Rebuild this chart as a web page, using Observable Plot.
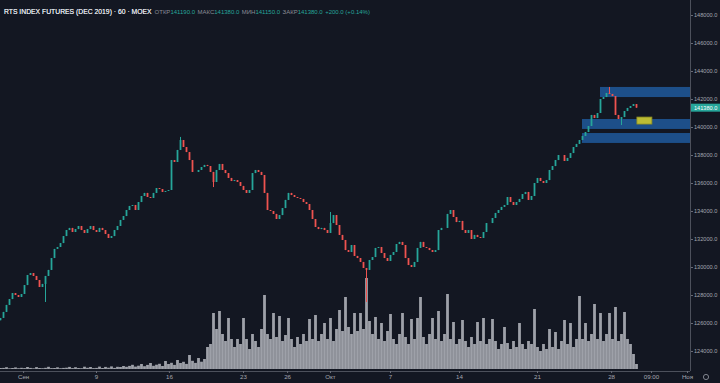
<!DOCTYPE html>
<html><head><meta charset="utf-8">
<script src="https://cdn.jsdelivr.net/npm/d3@7"></script>
<script src="https://cdn.jsdelivr.net/npm/@observablehq/plot@0.6"></script>
<style>
html,body{margin:0;padding:0;background:#131722;}
#chart{position:relative;width:720px;height:383px;background:#131722;overflow:hidden;font-family:"Liberation Sans",Arial,sans-serif;}
#chart svg{position:absolute;left:0;top:0;}
#hdr{position:absolute;left:4px;top:4px;white-space:nowrap;z-index:5;line-height:9px;}
#ttl{font-size:6.8px;color:#e1e4ea;text-shadow:0 0 0.3px #e1e4ea;}
#ohlc{font-size:6px;margin-left:3px;}
#ohlc .l{color:#8a8d97;}
#ohlc .v{color:#26a69a;margin-right:2.5px;}
</style></head><body><div id="chart"><div id="hdr"><span id="ttl"></span><span id="ohlc"></span></div></div>
<script>
// ---- header texts ----
const title = "RTS INDEX FUTURES (DEC 2019) · 60 · MOEX";
const ohlcLabels = ["ОТКР", "МАКС", "МИН", "ЗАКР"];
const ohlcValues = ["141190.0", "141380.0", "141150.0", "141380.0"];
const changeText = "+200.0 (+0.14%)";

// ---- candles (aggregated, one every ~3 hours), close prices ----
const firstOpen = 126200;
const closes = [
126360,126790,127290,127710,128140,128000,127860,128070,128710,129430,
129570,129360,129070,128570,128790,129360,129790,130640,131290,131430,
131710,132210,132640,132790,132500,132710,132930,132640,132430,132710,
132930,132640,132500,132790,132640,132360,132070,132210,132640,132930,
133360,133640,134070,134360,134430,134070,134640,135070,135290,135000,
134930,135290,135640,135570,135360,135430,135500,137640,137500,138360,
139070,138570,138210,137640,136790,136790,136930,137140,137290,137210,
136790,136070,136930,137360,136930,136710,136360,136140,136210,136070,
135790,135500,135290,135500,136710,136930,136790,136570,135290,134070,
134000,133790,133430,133710,134210,134790,135290,135140,135000,134930,
134860,134640,134500,134070,133430,132860,132710,132790,132640,132430,
133140,133710,133000,132290,131930,131210,131070,131570,130790,130640,
130360,129930,129790,130500,130710,131360,131430,131000,130640,130430,
130860,131070,131640,131790,131570,130640,130140,130000,130360,131360,
131790,131430,131360,131210,131070,131210,132640,132790,132790,133790,
134070,133570,133210,133290,132640,132430,132640,132000,132290,132140,
132070,132500,133140,133140,133500,133860,134070,134290,134430,135000,
134640,134430,134640,134860,135210,135360,134790,135070,136000,136360,
136140,136000,136210,136930,137210,137640,138000,138000,137570,137790,
138140,138570,138790,139070,139360,139640,140070,140860,140640,141000,
142000,142140,142430,142360,142210,140860,140570,140710,141140,141360,
141500,141640,141380];

// notable wick extremes (candle index, high, low)
const spikeIdx  = [15, 60, 71, 110, 122, 203, 207];
const spikeHigh = [null, 139290, null, 133930, null, 142860, null];
const spikeLow  = [127500, null, 135710, null, 127500, null, 140140];

// ---- volumes (contracts) ----
const volumes = [
900,1100,1800,700,1000,1600,800,1200,900,2000,
1100,700,1900,1000,800,1200,2200,900,1000,1700,
800,1100,1300,2100,900,1800,1000,800,2300,1200,
2000,900,1100,2400,1000,2100,1300,2600,1100,2200,
2000,3000,2200,3100,4200,2400,3300,5000,2800,4100,
6000,3200,4300,5200,3000,8000,5000,6200,4100,9000,
6000,7200,5100,14000,8200,6100,11000,7300,10000,22000,
25000,56000,40000,58000,35000,28000,51000,30000,22000,30000,
25000,51000,30000,20000,35000,28000,22000,40000,74000,35000,
30000,56000,32000,53000,28000,34000,51000,30000,22000,32000,
25000,35000,28000,50000,30000,54000,28000,35000,46000,30000,
51000,28000,40000,59000,38000,72000,42000,35000,56000,38000,
56000,40000,91000,48000,35000,52000,30000,46000,28000,38000,
55000,30000,25000,35000,56000,32000,25000,50000,30000,51000,
72000,32000,25000,35000,51000,30000,58000,28000,35000,75000,
30000,47000,25000,30000,49000,28000,22000,32000,25000,47000,
28000,51000,25000,30000,50000,28000,20000,25000,42000,26000,
20000,28000,22000,46000,25000,20000,28000,25000,60000,22000,
18000,25000,20000,40000,22000,37000,20000,28000,49000,25000,
46000,22000,30000,73000,30000,46000,28000,35000,65000,30000,
56000,28000,35000,56000,30000,62000,28000,35000,57000,30000,
25000,15000,5000];

// ---- axes ----
const priceTicks = [124000,126000,128000,130000,132000,134000,136000,138000,140000,142000,144000,146000,148000];
const timeTickIdx = [7.7, 32, 56.3, 81, 95.7, 110, 130, 153, 179, 203.7, 217, 229];
const timeTickLabels = ["Сен", "9", "16", "23", "26", "Окт", "7", "14", "21", "28", "09:00", "Ноя"];

// ---- drawn zones ----
const zoneStart  = [200, 194, 194];
const zoneTop    = [142860, 140570, 139570];
const zoneBottom = [142140, 139860, 138860];
const noteStart = [212.3], noteEnd = [217.3], noteTop = [140710], noteBottom = [140210];

// ---- scale settings ----
const W = 720, H = 383, mR = 30, mB = 12;
const xMax = 230;
const yMin = 122571, yMax = 149071;
const UP = "#26a69a", DOWN = "#ef5350";
const FONT = "Liberation Sans, Arial, sans-serif";

// build tables
const candles = closes.map((c, i) => {
  const o = i ? closes[i - 1] : firstOpen;
  const k = spikeIdx.indexOf(i);
  let hi = Math.max(o, c), lo = Math.min(o, c);
  if (k >= 0 && spikeHigh[k] != null) hi = spikeHigh[k];
  if (k >= 0 && spikeLow[k] != null) lo = spikeLow[k];
  return {i, open: o, close: c, high: hi, low: lo, up: c >= o};
});
const vols = volumes.map((v, i) => ({i, v}));
const zones = zoneStart.map((s, k) => ({start: s, top: zoneTop[k], bottom: zoneBottom[k]}));
const notes = noteStart.map((s, k) => ({start: s, end: noteEnd[k], top: noteTop[k], bottom: noteBottom[k]}));

const common = {width: W, height: H, marginLeft: 0, marginRight: mR, marginTop: 0, marginBottom: mB,
  style: {background: "transparent", color: "#a3a6af", fontSize: "6.2px", fontFamily: FONT}};

const volPlot = Plot.plot({...common,
  x: {domain: [0, xMax], axis: null},
  y: {domain: [0, 95000], range: [369, 274], axis: null},
  marks: [Plot.ruleX(vols, {x: "i", y1: 0, y2: "v", stroke: "#9ea1a9", strokeWidth: 2.8})]
});

const pricePlot = Plot.plot({...common,
  x: {domain: [0, xMax]},
  y: {domain: [yMin, yMax]},
  marks: [
    Plot.rect(zones, {x1: "start", x2: () => xMax, y1: "bottom", y2: "top", fill: "#1d4f89"}),
    Plot.rect(notes, {x1: "start", x2: "end", y1: "bottom", y2: "top", fill: "#bcbc34", stroke: "#8d8d22", strokeWidth: 0.8}),
    Plot.ruleX(candles, {filter: d => d.up, x: "i", y1: "low", y2: "high", stroke: UP, strokeWidth: 1}),
    Plot.ruleX(candles, {filter: d => !d.up, x: "i", y1: "low", y2: "high", stroke: DOWN, strokeWidth: 1}),
    Plot.ruleX(candles, {filter: d => d.up, x: "i", y1: "open", y2: "close", stroke: UP, strokeWidth: 1.8}),
    Plot.ruleX(candles, {filter: d => !d.up, x: "i", y1: "open", y2: "close", stroke: DOWN, strokeWidth: 1.8}),
    Plot.ruleX([xMax], {stroke: "#4c505b"}),
    Plot.ruleY([yMin], {stroke: "#4c505b"}),
    Plot.axisY({anchor: "right", ticks: priceTicks, tickFormat: d => d.toFixed(1), tickSize: 2, tickPadding: 1.5, label: null, stroke: "#6a6d78", fontSize: 5.6}),
    Plot.axisX({ticks: timeTickIdx, tickFormat: d => timeTickLabels[timeTickIdx.indexOf(d)], tickSize: 2, tickPadding: 1, label: null, stroke: "#6a6d78"})
  ]
});

const chart = document.getElementById("chart");
chart.appendChild(volPlot);
chart.appendChild(pricePlot);

// last price label on the price axis
const last = closes[closes.length - 1];
const ys = pricePlot.scale("y").apply(last);
const xs = pricePlot.scale("x").apply(xMax);
const svg = d3.select(pricePlot);
svg.append("rect").attr("x", xs + 1).attr("y", ys - 4).attr("width", W - xs - 1).attr("height", 8).attr("fill", UP);
svg.append("text").attr("x", xs + 4).attr("y", ys + 2).attr("fill", "#ffffff").attr("text-anchor", "start")
  .attr("font-size", "5.6px").attr("font-family", FONT).text(last.toFixed(1));
// settings icon bottom-right
svg.append("circle").attr("cx", xs + 16).attr("cy", H - 6).attr("r", 2.6)
  .attr("fill", "none").attr("stroke", "#8a8d97").attr("stroke-width", 0.9);

// header
document.getElementById("ttl").textContent = title;
const oh = document.getElementById("ohlc");
ohlcLabels.forEach((l, k) => {
  const a = document.createElement("span"); a.className = "l"; a.textContent = l; oh.appendChild(a);
  const b = document.createElement("span"); b.className = "v"; b.textContent = ohlcValues[k]; oh.appendChild(b);
});
const c = document.createElement("span"); c.className = "v"; c.textContent = changeText; oh.appendChild(c);
</script>
</body></html>
